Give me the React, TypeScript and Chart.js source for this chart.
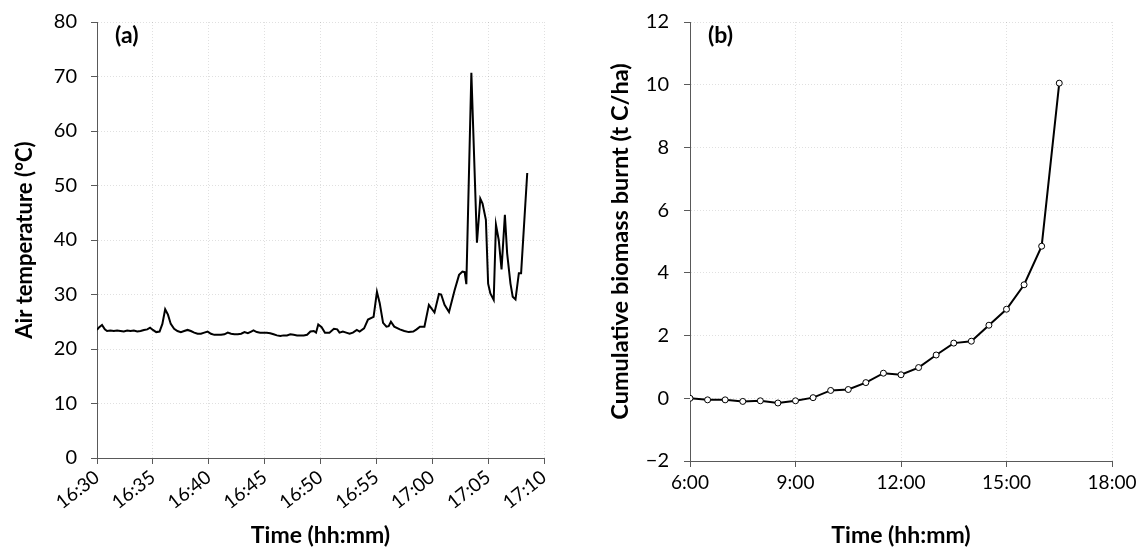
import React, { useEffect, useRef } from "react";
import { Chart, registerables } from "chart.js";

Chart.register(...registerables);

// Panel (a): air temperature, minutes after 16:30
const tempMinutes = [
  0.0, 0.2, 0.45, 0.7, 0.9, 1.2, 1.5, 1.8, 2.1, 2.4, 2.7, 3.0, 3.3, 3.6, 3.9, 4.2, 4.5, 4.75, 5.0, 5.3,
  5.6, 5.85, 6.1, 6.35, 6.6, 6.9, 7.2, 7.5, 7.8, 8.1, 8.4, 8.7, 9.0, 9.3, 9.6, 9.9, 10.2, 10.5, 10.8, 11.1,
  11.4, 11.7, 12.0, 12.3, 12.6, 12.9, 13.2, 13.5, 13.8, 14.0, 14.3, 14.6, 14.9, 15.2, 15.5, 15.8, 16.1, 16.4, 16.7, 17.0,
  17.3, 17.6, 17.9, 18.2, 18.5, 18.8, 19.1, 19.4, 19.6, 19.8, 20.1, 20.4, 20.8, 21.2, 21.5, 21.7, 22.0, 22.3, 22.6, 22.9,
  23.25, 23.5, 23.9, 24.25, 24.75, 25.05, 25.3, 25.6, 25.9, 26.1, 26.3, 26.6, 27.1, 27.5, 27.9, 28.3, 28.6, 28.9, 29.3, 29.7,
  30.2, 30.6, 30.8, 31.1, 31.5, 32.0, 32.4, 32.7, 32.9, 33.05, 33.5, 34.0, 34.3, 34.5, 34.8, 35.0, 35.2, 35.5, 35.7, 35.95,
  36.2, 36.5, 36.7, 37.0, 37.2, 37.45, 37.75, 37.95, 38.5,
];
const tempValues = [
  23.5, 24.0, 24.4, 23.6, 23.3, 23.4, 23.3, 23.4, 23.3, 23.2, 23.4, 23.3, 23.4, 23.2, 23.3, 23.5, 23.6, 23.9, 23.5, 23.1,
  23.2, 24.6, 27.3, 26.3, 24.6, 23.7, 23.3, 23.1, 23.3, 23.5, 23.3, 23.0, 22.8, 22.8, 23.0, 23.2, 22.8, 22.6, 22.6, 22.6,
  22.7, 23.0, 22.8, 22.7, 22.7, 22.8, 23.1, 22.9, 23.2, 23.4, 23.1, 23.0, 23.0, 23.0, 22.9, 22.7, 22.5, 22.4, 22.5, 22.5,
  22.7, 22.6, 22.5, 22.5, 22.5, 22.6, 23.2, 23.3, 23.0, 24.5, 24.0, 23.0, 23.0, 23.7, 23.6, 23.0, 23.2, 23.0, 22.8, 23.0,
  23.5, 23.2, 23.8, 25.4, 25.9, 30.5, 28.4, 24.8, 24.1, 24.2, 25.0, 24.1, 23.6, 23.3, 23.1, 23.2, 23.6, 24.1, 24.1, 28.1,
  26.7, 30.1, 30.0, 28.1, 26.8, 30.8, 33.6, 34.2, 34.1, 31.9, 70.7, 39.5, 47.6, 46.7, 43.7, 32.0, 30.2, 29.0, 42.8, 40.0,
  34.6, 44.6, 37.6, 32.0, 29.6, 29.1, 33.9, 33.9, 52.3,
];
const tempTickLabels = ["16:30", "16:35", "16:40", "16:45", "16:50", "16:55", "17:00", "17:05", "17:10"];

// Panel (b): cumulative biomass burnt, hour of day
const biomassHours = [
  6.0, 6.5, 7.0, 7.5, 8.0, 8.5, 9.0, 9.5, 10.0, 10.5, 11.0, 11.5, 12.0, 12.5, 13.0, 13.5, 14.0, 14.5, 15.0, 15.5, 16.0, 16.5,
];
const biomassValues = [
  0.0, -0.05, -0.05, -0.1, -0.08, -0.15, -0.08, 0.02, 0.25, 0.28, 0.5, 0.8, 0.75, 0.98, 1.38, 1.76, 1.82, 2.33, 2.84, 3.62, 4.85, 10.05,
];
const biomassTickLabels = ["6:00", "9:00", "12:00", "15:00", "18:00"];

const FONT = "Lato, 'Open Sans', sans-serif";
const AXIS = "#595959";
const GRID = "rgba(0,0,0,0.12)";

function panelLabelPlugin(text: string) {
  return {
    id: "panelLabel",
    afterDraw(chart: any) {
      const { ctx, chartArea } = chart;
      ctx.save();
      ctx.font = `bold 23px ${FONT}`;
      ctx.fillStyle = "#000";
      ctx.textBaseline = "middle";
      ctx.textAlign = "left";
      ctx.fillText(text, chartArea.left + 18, chartArea.top + 14);
      ctx.restore();
    },
  };
}

function makeScaleCommon() {
  return {
    border: { display: true, color: AXIS, width: 1, dash: [1, 2] },
    grid: {
      color: GRID,
      lineWidth: 1,
      drawTicks: true,
      tickLength: 6,
      tickColor: AXIS,
      tickWidth: 1,
    },
  };
}

function TempChart() {
  const ref = useRef<HTMLCanvasElement | null>(null);
  useEffect(() => {
    if (!ref.current) return;
    const data = tempMinutes.map((t, i) => ({ x: t, y: tempValues[i] }));
    const common = makeScaleCommon();
    const chart = new Chart(ref.current, {
      type: "line",
      data: {
        datasets: [
          {
            data,
            borderColor: "#000",
            borderWidth: 2,
            pointRadius: 0,
            tension: 0,
            fill: false,
          },
        ],
      },
      options: {
        animation: false,
        responsive: false,
        maintainAspectRatio: false,
        layout: { padding: { top: 22, right: 28, left: 0, bottom: 0 } },
        plugins: { legend: { display: false }, tooltip: { enabled: false } },
        scales: {
          x: {
            type: "linear",
            min: 0,
            max: 40,
            ...common,
            ticks: {
              stepSize: 5,
              color: "#000",
              font: { family: FONT, size: 19 },
              minRotation: 38,
              maxRotation: 38,
              padding: 2,
              callback: (v: any) => tempTickLabels[Math.round(Number(v) / 5)] ?? "",
            },
            title: {
              display: true,
              text: "Time (hh:mm)",
              color: "#000",
              font: { family: FONT, size: 23, weight: "bold" },
              padding: { top: 0, bottom: 1 },
            },
            afterFit: (s: any) => {
              s.height = 92;
            },
          },
          y: {
            type: "linear",
            min: 0,
            max: 80,
            ...common,
            ticks: {
              stepSize: 10,
              color: "#000",
              font: { family: FONT, size: 20 },
              padding: 14,
            },
            title: {
              display: true,
              text: "Air temperature (°C)",
              color: "#000",
              font: { family: FONT, size: 22, weight: "bold" },
              padding: { top: 12, bottom: 0 },
            },
            afterFit: (s: any) => {
              s.width = 97;
              s.paddingTop = 10;
              s.paddingBottom = 0;
            },
          },
        },
      },
      plugins: [panelLabelPlugin("(a)")],
    } as any);
    return () => chart.destroy();
  }, []);
  return <canvas ref={ref} width={572} height={550} style={{ width: 572, height: 550, display: "block" }} />;
}

function BiomassChart() {
  const ref = useRef<HTMLCanvasElement | null>(null);
  useEffect(() => {
    if (!ref.current) return;
    const data = biomassHours.map((h, i) => ({ x: h, y: biomassValues[i] }));
    const common = makeScaleCommon();
    const chart = new Chart(ref.current, {
      type: "line",
      data: {
        datasets: [
          {
            data,
            borderColor: "#000",
            borderWidth: 2,
            pointRadius: 3,
            pointBackgroundColor: "#fff",
            pointBorderColor: "#000",
            pointBorderWidth: 1,
            tension: 0,
            fill: false,
          },
        ],
      },
      options: {
        animation: false,
        responsive: false,
        maintainAspectRatio: false,
        layout: { padding: { top: 22, right: 32, left: 0, bottom: 0 } },
        plugins: { legend: { display: false }, tooltip: { enabled: false } },
        scales: {
          x: {
            type: "linear",
            min: 6,
            max: 18,
            ...common,
            ticks: {
              stepSize: 3,
              color: "#000",
              font: { family: FONT, size: 19 },
              maxRotation: 0,
              minRotation: 0,
              padding: 4,
              callback: (v: any) => biomassTickLabels[Math.round((Number(v) - 6) / 3)] ?? "",
            },
            title: {
              display: true,
              text: "Time (hh:mm)",
              color: "#000",
              font: { family: FONT, size: 23, weight: "bold" },
              padding: { top: 0, bottom: 1 },
            },
            afterFit: (s: any) => {
              s.height = 89;
            },
          },
          y: {
            type: "linear",
            min: -2,
            max: 12,
            ...common,
            ticks: {
              stepSize: 2,
              color: "#000",
              font: { family: FONT, size: 20 },
              padding: 15,
              callback: (v: any) => {
                const n = Number(v);
                return n < 0 ? "\u2212" + Math.abs(n) : String(n);
              },
            },
            title: {
              display: true,
              text: "Cumulative biomass burnt (t C/ha)",
              color: "#000",
              font: { family: FONT, size: 23.5, weight: "bold" },
              padding: { top: 34, bottom: 0 },
            },
            afterFit: (s: any) => {
              s.width = 118;
              s.paddingTop = 10;
              s.paddingBottom = 0;
            },
          },
        },
      },
      plugins: [panelLabelPlugin("(b)")],
    } as any);
    return () => chart.destroy();
  }, []);
  return <canvas ref={ref} width={572} height={550} style={{ width: 572, height: 550, display: "block" }} />;
}

export default function App() {
  return (
    <div style={{ position: "absolute", left: 0, top: 0, width: 1144, height: 550, background: "#fff", display: "flex" }}>
      <TempChart />
      <BiomassChart />
    </div>
  );
}
